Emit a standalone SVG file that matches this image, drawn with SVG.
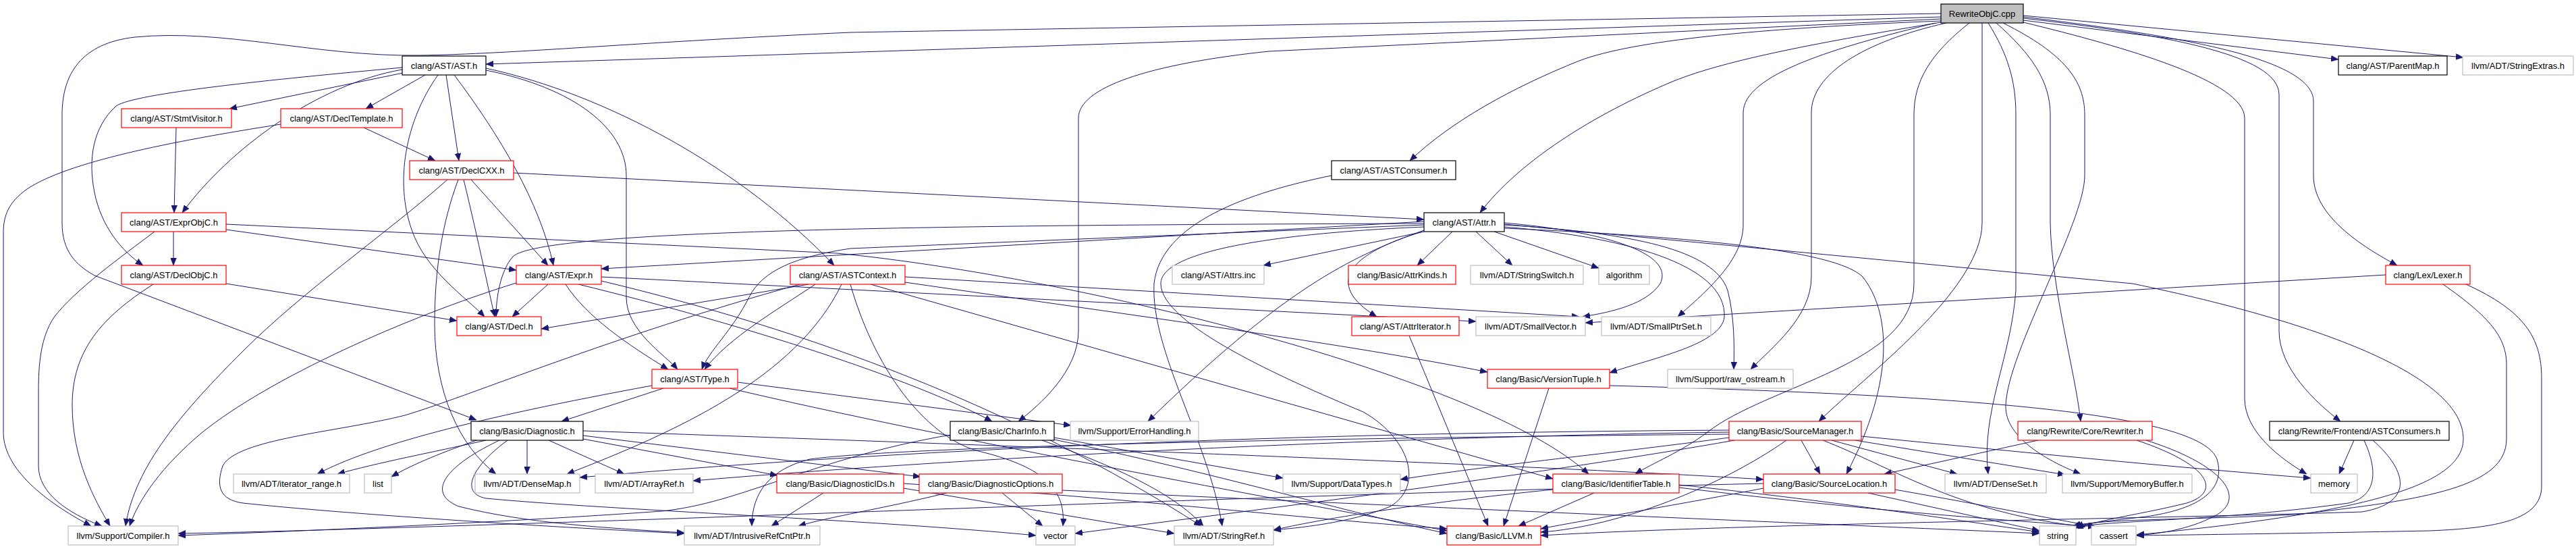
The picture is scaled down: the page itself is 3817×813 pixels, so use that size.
<svg xmlns="http://www.w3.org/2000/svg" width="3817" height="813" viewBox="0 0 3817 813">
<style>
.node rect{fill:#ffffff;stroke-width:1.2}
.k rect{stroke:#000000}
.r rect{stroke:#ff0000}
.g rect{stroke:#bfbfbf}
.root rect{fill:#bfbfbf;stroke:#000000}
.node text{font-family:"Liberation Sans",Arial,Helvetica,sans-serif;font-size:13px;text-anchor:middle;fill:#000000}
.edges path{fill:none;stroke:#191970;stroke-width:1;marker-end:url(#a)}
</style>
<defs>
<marker id="a" viewBox="0 0 11 9" markerWidth="11" markerHeight="9" refX="11" refY="4.5" orient="auto" markerUnits="userSpaceOnUse">
<path d="M0,0 L11,4.5 L0,9 z" fill="#191970" stroke="#191970" stroke-width="0.5"/>
</marker>
</defs>
<rect x="0" y="0" width="3817" height="813" fill="#ffffff"/>
<g id="edges" class="edges">
<path d="M2876,25 L720,95"/>
<path d="M2876,20 L1260,48 C950,62 760,80 620,82 C470,84 330,42 200,55 C120,64 92,110 92,170 L92,330 C92,372 112,392 140,408 L706,622"/>
<path d="M2876,28 L1880,76 C1700,95 1598,130 1598,175 L1598,490 C1598,550 1540,600 1509,624"/>
<path d="M2876,31 C2600,42 2420,60 2340,90 C2240,130 2150,180 2089,238"/>
<path d="M2876,33 C2700,62 2560,88 2480,120 C2360,170 2250,240 2193,315"/>
<path d="M2868,34 C2720,70 2583,110 2583,167 L2583,333 C2583,385 2530,430 2486,469"/>
<path d="M2884,34 C2760,62 2684,110 2684,167 L2684,410 C2684,470 2625,515 2594,547"/>
<path d="M2918,34 C2860,80 2836,120 2836,170 L2836,420 C2836,540 2620,570 2530,640 C2490,670 2450,685 2423,702"/>
<path d="M2937,34 L2937,330 C2937,430 2760,560 2695,624"/>
<path d="M2946,34 C2975,80 2987,120 2987,170 L2987,430 C2980,530 2935,610 2946,702"/>
<path d="M2958,34 C3010,80 3038,120 3038,170 L3038,330 C3040,430 3075,550 3083,624"/>
<path d="M2968,34 C3060,80 3089,120 3089,170 L3089,260 C3089,330 2975,520 2972,600 C2970,650 3040,685 3083,702"/>
<path d="M2998,30 L3465,88"/>
<path d="M2998,23 L3650,85"/>
<path d="M2998,33 C3150,70 3326,120 3326,175 L3326,590 C3326,640 3380,680 3418,702"/>
<path d="M2998,27 C3200,50 3377,80 3377,140 L3377,490 C3377,545 3430,595 3468,624"/>
<path d="M2998,25 C3250,55 3428,90 3428,150 L3428,260 C3428,320 3500,365 3552,393"/>
<path d="M597,108 L340,161"/>
<path d="M630,111 L542,161"/>
<path d="M596,103 C470,125 340,220 270,315"/>
<path d="M596,100 C400,118 200,138 172,157 C138,188 130,235 140,285 C150,335 180,372 212,393"/>
<path d="M661,111 L680,238"/>
<path d="M673,111 C740,200 800,300 820,393"/>
<path d="M649,111 C600,180 585,270 610,340 C630,400 690,440 718,469"/>
<path d="M720,104 C850,130 928,190 928,260 L928,440 C928,490 985,525 1004,547"/>
<path d="M720,101 C900,140 1100,250 1236,393"/>
<path d="M261,189 L258,315"/>
<path d="M539,189 L645,238"/>
<path d="M416,184 C250,210 100,240 40,280 C12,300 5,320 5,345 L5,640 C5,700 80,750 135,779"/>
<path d="M761,256 L2110,325"/>
<path d="M687,266 C705,340 722,420 733,469"/>
<path d="M698,266 L812,393"/>
<path d="M679,266 C655,330 644,400 644,480 C644,580 680,660 735,702"/>
<path d="M663,266 C580,340 450,430 360,520 C270,610 200,690 186,779"/>
<path d="M257,343 L257,393"/>
<path d="M229,343 C180,380 110,430 80,470 C60,500 57,540 57,580 L57,690 C57,730 100,760 151,779"/>
<path d="M335,340 L765,400"/>
<path d="M335,332 L1240,375 C1600,410 2200,560 2354,702"/>
<path d="M335,420 L677,475"/>
<path d="M227,421 C150,470 107,520 107,600 C107,680 140,740 163,779"/>
<path d="M812,421 L759,469"/>
<path d="M838,421 C870,470 930,510 990,547"/>
<path d="M857,421 C1100,480 1350,560 1470,624"/>
<path d="M891,410 L2187,476"/>
<path d="M891,416 C1200,490 1500,600 1780,779"/>
<path d="M765,419 C600,470 400,560 300,640 C240,690 205,740 192,779"/>
<path d="M1198,421 L802,487"/>
<path d="M1208,421 C1150,460 1080,500 1044,547"/>
<path d="M1247,421 C1180,560 1000,640 840,702"/>
<path d="M1290,421 L2301,709"/>
<path d="M1260,421 C1300,560 1380,650 1450,668 C1540,690 1580,720 1575,779"/>
<path d="M1185,421 C900,500 700,585 600,615 C500,640 350,650 330,690 C320,720 325,740 360,745 C500,760 800,780 1014,790"/>
<path d="M1341,410 L2340,469"/>
<path d="M1341,418 C1700,470 2000,510 2204,551"/>
<path d="M2110,343 L1872,393"/>
<path d="M2152,343 L2100,393"/>
<path d="M2187,343 L2241,393"/>
<path d="M2214,343 L2369,397"/>
<path d="M2108,343 C2000,375 1960,420 2040,469"/>
<path d="M2229,330 C2400,345 2480,380 2460,420 C2440,450 2390,462 2345,469"/>
<path d="M2110,331 C1400,333 800,340 760,380 C742,400 735,440 735,469"/>
<path d="M2110,328 L891,398"/>
<path d="M2110,333 L1260,368 C1180,380 1130,400 1110,440 C1085,490 1050,520 1040,547"/>
<path d="M2110,336 C1900,345 1720,370 1720,420 C1720,480 1900,560 2020,610 C2090,650 2110,720 2060,750 C2000,775 1920,782 1887,785"/>
<path d="M2110,341 C2000,380 1900,430 1701,624"/>
<path d="M2229,338 C2500,350 2720,370 2760,410 C2800,460 2810,560 2736,702"/>
<path d="M2229,336 C2400,350 2560,390 2555,470 C2550,510 2450,530 2385,552"/>
<path d="M2229,333 C2420,345 2540,370 2560,430 C2570,470 2570,510 2569,547"/>
<path d="M2229,332 L3160,420 C3450,480 3650,560 3650,650 C3650,720 3500,760 3166,792"/>
<path d="M781,652 L781,702"/>
<path d="M813,652 L925,702"/>
<path d="M720,652 C640,670 560,685 500,702"/>
<path d="M712,650 C660,668 610,688 580,706"/>
<path d="M864,650 L1152,704"/>
<path d="M864,645 L1364,706"/>
<path d="M864,638 C1500,660 2300,690 2613,710"/>
<path d="M740,652 C660,690 630,730 680,750 C780,775 900,782 1014,789"/>
<path d="M752,652 C700,690 680,730 720,738 C900,755 1300,770 1535,793"/>
<path d="M983,575 L832,624"/>
<path d="M966,571 C700,620 550,660 470,702"/>
<path d="M1093,566 L1587,630"/>
<path d="M1081,575 C1400,650 1900,740 2144,786"/>
<path d="M1408,644 C1200,680 1100,745 980,757 C800,770 500,785 264,793"/>
<path d="M1544,652 C1650,690 1740,730 1783,779"/>
<path d="M1562,648 L1901,708"/>
<path d="M1562,651 C1800,700 2000,760 2144,790"/>
<path d="M1220,730 L1143,779"/>
<path d="M1339,723 L1740,790"/>
<path d="M1339,716 C1700,740 1950,770 2144,783"/>
<path d="M1403,730 C1300,755 1230,765 1183,779"/>
<path d="M1485,730 L1545,779"/>
<path d="M1574,726 C2300,760 2800,780 3022,790"/>
<path d="M2362,730 L2250,779"/>
<path d="M2301,725 C2100,745 1950,770 1887,785"/>
<path d="M2488,718 C2700,740 2900,770 3022,788"/>
<path d="M2488,722 C2800,760 3000,772 3105,780"/>
<path d="M2669,652 L2697,702"/>
<path d="M2714,652 L2900,702"/>
<path d="M2749,652 L3060,703"/>
<path d="M2758,646 C3000,670 3200,690 3424,708"/>
<path d="M2701,652 C2800,690 2900,760 3090,780"/>
<path d="M2647,652 C2550,720 2400,780 2283,788"/>
<path d="M2562,637 C2000,640 1400,660 859,707"/>
<path d="M2562,640 C2000,648 1400,680 1027,712"/>
<path d="M2562,643 C2000,648 1350,660 1200,680 C1140,695 1114,730 1114,779"/>
<path d="M2562,648 C2400,670 2200,690 2075,710"/>
<path d="M2570,652 C2300,700 1900,750 1593,790"/>
<path d="M2613,723 C2500,745 2350,770 2283,783"/>
<path d="M2768,730 L3022,786"/>
<path d="M2613,716 C2100,728 1500,750 1000,768 C700,778 400,788 264,790"/>
<path d="M2808,725 C2950,750 3050,770 3105,780"/>
<path d="M3020,652 L2792,702"/>
<path d="M3166,652 C3280,690 3290,730 3240,745 C3180,760 3110,770 3076,782"/>
<path d="M3180,652 C3300,690 3330,740 3280,765 C3240,785 3200,790 3166,793"/>
<path d="M3488,652 L3466,702"/>
<path d="M3503,652 C3525,700 3520,735 3480,745 C3300,770 3150,770 3074,780"/>
<path d="M3516,652 C3570,700 3575,745 3500,758 C3200,768 2600,775 2283,793"/>
<path d="M3535,407 L2349,478"/>
<path d="M3654,421 C3740,460 3766,500 3766,560 L3766,720 C3766,770 3700,782 3600,786 C3400,790 3250,792 3166,793"/>
<path d="M3620,421 C3690,470 3714,500 3714,540 L3714,650 C3714,720 3600,740 3400,762 C3250,770 3110,768 3072,779"/>
<path d="M2295,575 L2228,779"/>
<path d="M2385,571 C2900,585 3260,610 3285,680 C3300,730 3250,755 3180,765 C3120,772 3090,775 3076,780"/>
<path d="M2088,497 L2205,779"/>
<path d="M1973,260 C1850,285 1720,330 1710,420 C1705,520 1790,650 1811,779"/>
</g>
<g id="n_rewriteobjc" class="node root"><rect x="2876" y="6" width="122" height="28"/><text x="2937" y="25">RewriteObjC.cpp</text></g>
<g id="n_ast" class="node k"><rect x="596" y="83" width="124" height="28"/><text x="658" y="102">clang/AST/AST.h</text></g>
<g id="n_parentmap" class="node k"><rect x="3465" y="83" width="161" height="28"/><text x="3545.5" y="102">clang/AST/ParentMap.h</text></g>
<g id="n_stringextras" class="node g"><rect x="3649" y="83" width="164" height="28"/><text x="3731" y="102">llvm/ADT/StringExtras.h</text></g>
<g id="n_stmtvisitor" class="node r"><rect x="180" y="161" width="163" height="28"/><text x="261.5" y="180">clang/AST/StmtVisitor.h</text></g>
<g id="n_decltemplate" class="node r"><rect x="416" y="161" width="180" height="28"/><text x="506" y="180">clang/AST/DeclTemplate.h</text></g>
<g id="n_declcxx" class="node r"><rect x="607" y="238" width="154" height="28"/><text x="684" y="257">clang/AST/DeclCXX.h</text></g>
<g id="n_astconsumer" class="node k"><rect x="1973" y="238" width="184" height="28"/><text x="2065" y="257">clang/AST/ASTConsumer.h</text></g>
<g id="n_exprobjc" class="node r"><rect x="180" y="315" width="155" height="28"/><text x="257.5" y="334">clang/AST/ExprObjC.h</text></g>
<g id="n_attr" class="node k"><rect x="2110" y="315" width="119" height="28"/><text x="2169.5" y="334">clang/AST/Attr.h</text></g>
<g id="n_declobjc" class="node r"><rect x="180" y="393" width="155" height="28"/><text x="257.5" y="412">clang/AST/DeclObjC.h</text></g>
<g id="n_expr" class="node r"><rect x="765" y="393" width="126" height="28"/><text x="828" y="412">clang/AST/Expr.h</text></g>
<g id="n_astcontext" class="node r"><rect x="1171" y="393" width="170" height="28"/><text x="1256" y="412">clang/AST/ASTContext.h</text></g>
<g id="n_attrsinc" class="node g"><rect x="1737" y="393" width="136" height="28"/><text x="1805" y="412">clang/AST/Attrs.inc</text></g>
<g id="n_attrkinds" class="node r"><rect x="1998" y="393" width="159" height="28"/><text x="2077.5" y="412">clang/Basic/AttrKinds.h</text></g>
<g id="n_stringswitch" class="node g"><rect x="2179" y="393" width="167" height="28"/><text x="2262.5" y="412">llvm/ADT/StringSwitch.h</text></g>
<g id="n_algorithm" class="node g"><rect x="2369" y="393" width="75" height="28"/><text x="2406.5" y="412">algorithm</text></g>
<g id="n_lexer" class="node r"><rect x="3535" y="393" width="125" height="28"/><text x="3597.5" y="412">clang/Lex/Lexer.h</text></g>
<g id="n_decl" class="node r"><rect x="677" y="469" width="125" height="28"/><text x="739.5" y="488">clang/AST/Decl.h</text></g>
<g id="n_attriterator" class="node r"><rect x="2003" y="469" width="159" height="28"/><text x="2082.5" y="488">clang/AST/AttrIterator.h</text></g>
<g id="n_smallvector" class="node g"><rect x="2187" y="469" width="162" height="28"/><text x="2268" y="488">llvm/ADT/SmallVector.h</text></g>
<g id="n_smallptrset" class="node g"><rect x="2373" y="469" width="162" height="28"/><text x="2454" y="488">llvm/ADT/SmallPtrSet.h</text></g>
<g id="n_type" class="node r"><rect x="966" y="547" width="127" height="28"/><text x="1029.5" y="566">clang/AST/Type.h</text></g>
<g id="n_versiontuple" class="node r"><rect x="2204" y="547" width="181" height="28"/><text x="2294.5" y="566">clang/Basic/VersionTuple.h</text></g>
<g id="n_rawostream" class="node g"><rect x="2471" y="547" width="186" height="28"/><text x="2564" y="566">llvm/Support/raw_ostream.h</text></g>
<g id="n_diagnostic" class="node k"><rect x="698" y="624" width="166" height="28"/><text x="781" y="643">clang/Basic/Diagnostic.h</text></g>
<g id="n_charinfo" class="node k"><rect x="1408" y="624" width="154" height="28"/><text x="1485" y="643">clang/Basic/CharInfo.h</text></g>
<g id="n_errorhandling" class="node g"><rect x="1586" y="624" width="190" height="28"/><text x="1681" y="643">llvm/Support/ErrorHandling.h</text></g>
<g id="n_sourcemanager" class="node r"><rect x="2562" y="624" width="196" height="28"/><text x="2660" y="643">clang/Basic/SourceManager.h</text></g>
<g id="n_rewriter" class="node r"><rect x="2990" y="624" width="199" height="28"/><text x="3089.5" y="643">clang/Rewrite/Core/Rewriter.h</text></g>
<g id="n_astconsumers" class="node k"><rect x="3363" y="624" width="266" height="28"/><text x="3496" y="643">clang/Rewrite/Frontend/ASTConsumers.h</text></g>
<g id="n_iteratorrange" class="node g"><rect x="346" y="702" width="172" height="28"/><text x="432" y="721">llvm/ADT/iterator_range.h</text></g>
<g id="n_list" class="node g"><rect x="540" y="702" width="40" height="28"/><text x="560" y="721">list</text></g>
<g id="n_densemap" class="node g"><rect x="704" y="702" width="155" height="28"/><text x="781.5" y="721">llvm/ADT/DenseMap.h</text></g>
<g id="n_arrayref" class="node g"><rect x="882" y="702" width="145" height="28"/><text x="954.5" y="721">llvm/ADT/ArrayRef.h</text></g>
<g id="n_diagnosticids" class="node r"><rect x="1151" y="702" width="188" height="28"/><text x="1245" y="721">clang/Basic/DiagnosticIDs.h</text></g>
<g id="n_diagnosticoptions" class="node r"><rect x="1362" y="702" width="212" height="28"/><text x="1468" y="721">clang/Basic/DiagnosticOptions.h</text></g>
<g id="n_datatypes" class="node g"><rect x="1901" y="702" width="174" height="28"/><text x="1988" y="721">llvm/Support/DataTypes.h</text></g>
<g id="n_identifiertable" class="node r"><rect x="2301" y="702" width="187" height="28"/><text x="2394.5" y="721">clang/Basic/IdentifierTable.h</text></g>
<g id="n_sourcelocation" class="node r"><rect x="2613" y="702" width="195" height="28"/><text x="2710.5" y="721">clang/Basic/SourceLocation.h</text></g>
<g id="n_denseset" class="node g"><rect x="2882" y="702" width="150" height="28"/><text x="2957" y="721">llvm/ADT/DenseSet.h</text></g>
<g id="n_memorybuffer" class="node g"><rect x="3056" y="702" width="192" height="28"/><text x="3152" y="721">llvm/Support/MemoryBuffer.h</text></g>
<g id="n_memory" class="node g"><rect x="3424" y="702" width="69" height="28"/><text x="3458.5" y="721">memory</text></g>
<g id="n_compiler" class="node g"><rect x="101" y="779" width="163" height="28"/><text x="182.5" y="798">llvm/Support/Compiler.h</text></g>
<g id="n_intrusiverefcntptr" class="node g"><rect x="1014" y="779" width="201" height="28"/><text x="1114.5" y="798">llvm/ADT/IntrusiveRefCntPtr.h</text></g>
<g id="n_vector" class="node g"><rect x="1535" y="779" width="58" height="28"/><text x="1564" y="798">vector</text></g>
<g id="n_stringref" class="node g"><rect x="1740" y="779" width="147" height="28"/><text x="1813.5" y="798">llvm/ADT/StringRef.h</text></g>
<g id="n_llvm" class="node r"><rect x="2144" y="779" width="139" height="28"/><text x="2213.5" y="798">clang/Basic/LLVM.h</text></g>
<g id="n_string" class="node g"><rect x="3022" y="779" width="54" height="28"/><text x="3049" y="798">string</text></g>
<g id="n_cassert" class="node g"><rect x="3099" y="779" width="66" height="28"/><text x="3132" y="798">cassert</text></g>
</svg>
